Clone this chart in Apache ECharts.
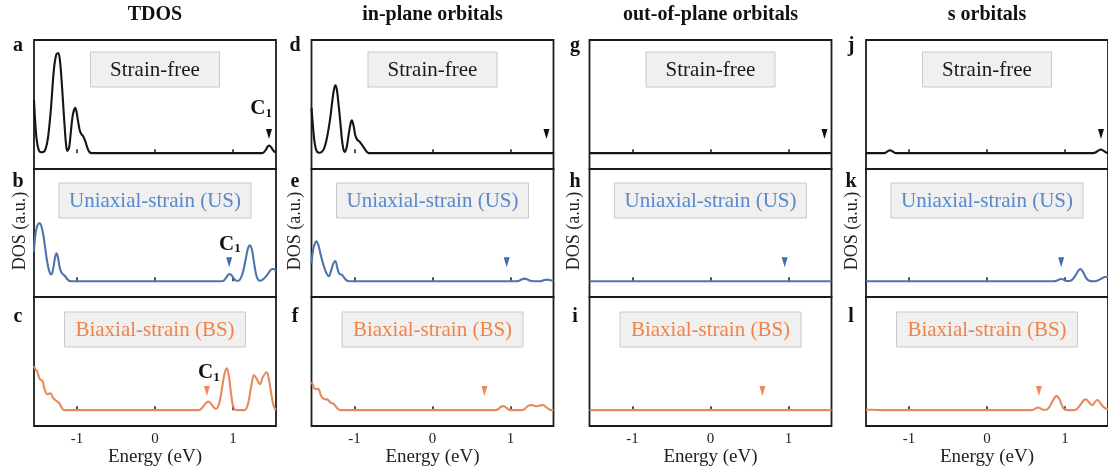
<!DOCTYPE html>
<html>
<head>
<meta charset="utf-8">
<script src="https://cdn.jsdelivr.net/npm/echarts@6/dist/echarts.min.js"></script>
<style>html,body{margin:0;padding:0;background:#fff;}#chart{width:1108px;height:472px;}</style>
</head>
<body>
<div id="chart"></div>
<script>
// ---------- data ----------
const energyRange = [-1.55, 1.55];
const tickValues = [-1, 0, 1];
const columnTitles = ['TDOS', 'in-plane orbitals', 'out-of-plane orbitals', 's orbitals'];
const rowLabels = ['Strain-free', 'Uniaxial-strain (US)', 'Biaxial-strain (BS)'];
const panelLetters = [['a','b','c'], ['d','e','f'], ['g','h','i'], ['j','k','l']];

// [energy (eV), DOS (a.u.)]
const tdosSF = [[-1.55,0.47],[-1.535,0.28],[-1.516,0.12],[-1.49,0.03],[-1.46,0.008],[-1.43,0.01],[-1.40,0.04],[-1.37,0.14],[-1.337,0.36],[-1.295,0.74],[-1.265,0.87],[-1.239,0.885],[-1.215,0.80],[-1.197,0.65],[-1.178,0.45],[-1.158,0.24],[-1.14,0.08],[-1.124,0.02],[-1.10,0.05],[-1.082,0.16],[-1.052,0.34],[-1.021,0.40],[-0.992,0.31],[-0.967,0.21],[-0.945,0.17],[-0.92,0.15],[-0.89,0.10],[-0.865,0.045],[-0.84,0.01],[-0.81,0],[1.36,0],[1.39,0.005],[1.42,0.03],[1.445,0.06],[1.464,0.068],[1.485,0.055],[1.51,0.03],[1.53,0.012],[1.55,0.005]];
const tdosUS = [[-1.55,0.265],[-1.535,0.40],[-1.515,0.48],[-1.495,0.512],[-1.474,0.516],[-1.455,0.49],[-1.43,0.41],[-1.405,0.29],[-1.38,0.17],[-1.355,0.09],[-1.328,0.06],[-1.30,0.13],[-1.278,0.22],[-1.26,0.25],[-1.24,0.20],[-1.22,0.12],[-1.20,0.08],[-1.175,0.06],[-1.15,0.045],[-1.125,0.02],[-1.10,0.005],[-1.07,0],[0.85,0],[0.88,0.005],[0.91,0.03],[0.935,0.055],[0.96,0.065],[0.985,0.05],[1.01,0.025],[1.04,0.005],[1.07,0.005],[1.10,0.03],[1.13,0.09],[1.16,0.19],[1.19,0.29],[1.218,0.32],[1.245,0.27],[1.27,0.16],[1.295,0.06],[1.32,0.015],[1.35,0.005],[1.39,0.02],[1.43,0.05],[1.47,0.09],[1.50,0.11],[1.52,0.11],[1.55,0.09]];
const tdosBS = [[-1.55,0.39],[-1.53,0.36],[-1.507,0.34],[-1.49,0.30],[-1.47,0.27],[-1.443,0.26],[-1.42,0.20],[-1.40,0.16],[-1.38,0.14],[-1.36,0.145],[-1.337,0.15],[-1.315,0.12],[-1.295,0.10],[-1.26,0.08],[-1.231,0.065],[-1.21,0.04],[-1.188,0.015],[-1.165,0],[0.55,0],[0.58,0.005],[0.61,0.025],[0.65,0.06],[0.685,0.075],[0.72,0.055],[0.75,0.025],[0.78,0.012],[0.80,0.02],[0.83,0.08],[0.86,0.2],[0.89,0.32],[0.92,0.37],[0.945,0.31],[0.97,0.17],[0.995,0.05],[1.02,0.01],[1.05,0],[1.15,0],[1.175,0.02],[1.20,0.08],[1.235,0.22],[1.268,0.31],[1.30,0.28],[1.345,0.23],[1.38,0.29],[1.43,0.335],[1.46,0.27],[1.49,0.14],[1.515,0.05],[1.535,0.015],[1.55,0.005]];

const inSF = [[-1.55,0.40],[-1.535,0.27],[-1.515,0.12],[-1.495,0.04],[-1.475,0.01],[-1.45,0.004],[-1.42,0.01],[-1.39,0.04],[-1.36,0.11],[-1.33,0.22],[-1.308,0.32],[-1.28,0.48],[-1.26,0.57],[-1.244,0.60],[-1.225,0.56],[-1.205,0.44],[-1.18,0.27],[-1.16,0.12],[-1.14,0.03],[-1.125,0.01],[-1.10,0.05],[-1.075,0.16],[-1.05,0.26],[-1.033,0.29],[-1.01,0.24],[-0.99,0.16],[-0.965,0.12],[-0.94,0.105],[-0.915,0.085],[-0.89,0.06],[-0.865,0.035],[-0.84,0.01],[-0.815,0],[1.55,0]];
const inUS = [[-1.55,0.16],[-1.53,0.28],[-1.505,0.34],[-1.485,0.355],[-1.465,0.33],[-1.44,0.26],[-1.415,0.19],[-1.39,0.13],[-1.36,0.075],[-1.33,0.045],[-1.30,0.09],[-1.27,0.16],[-1.244,0.18],[-1.22,0.12],[-1.20,0.075],[-1.18,0.062],[-1.16,0.058],[-1.13,0.03],[-1.096,0.005],[-1.07,0],[1.08,0],[1.11,0.005],[1.14,0.015],[1.18,0.024],[1.22,0.015],[1.25,0.004],[1.30,0],[1.38,0],[1.42,0.008],[1.47,0.015],[1.51,0.01],[1.55,0.003]];
const inBS = [[-1.55,0.25],[-1.53,0.22],[-1.51,0.19],[-1.49,0.185],[-1.47,0.19],[-1.45,0.175],[-1.43,0.13],[-1.41,0.11],[-1.39,0.10],[-1.37,0.095],[-1.35,0.095],[-1.325,0.08],[-1.30,0.065],[-1.266,0.055],[-1.235,0.03],[-1.205,0.008],[-1.18,0],[0.80,0],[0.84,0.008],[0.875,0.03],[0.907,0.036],[0.94,0.025],[0.975,0.006],[1.00,0],[1.14,0],[1.18,0.01],[1.22,0.035],[1.266,0.045],[1.31,0.038],[1.34,0.035],[1.375,0.042],[1.414,0.046],[1.45,0.03],[1.49,0.01],[1.52,0],[1.55,0]];

const outSF = [[-1.55,0],[1.55,0]];
const outUS = [[-1.55,0],[1.55,0]];
const outBS = [[-1.55,0],[1.55,0]];

const sSF = [[-1.55,0],[-1.32,0],[-1.29,0.008],[-1.26,0.022],[-1.243,0.025],[-1.22,0.02],[-1.19,0.006],[-1.16,0],[1.36,0],[1.40,0.01],[1.43,0.025],[1.458,0.032],[1.49,0.022],[1.52,0.008],[1.55,0.002]];
const sUS = [[-1.55,0],[-1.20,0],[0.86,0],[0.90,0.008],[0.95,0.02],[0.99,0.012],[1.03,0.002],[1.07,0.004],[1.10,0.02],[1.14,0.06],[1.175,0.10],[1.196,0.11],[1.22,0.095],[1.25,0.055],[1.28,0.02],[1.31,0.004],[1.36,0],[1.42,0.008],[1.47,0.025],[1.51,0.038],[1.55,0.04]];
const sBS = [[-1.55,0.003],[-1.45,0.003],[-1.40,0.001],[-1.35,0],[0.55,0],[0.60,0.005],[0.63,0.018],[0.653,0.024],[0.68,0.018],[0.72,0.004],[0.76,0.004],[0.80,0.03],[0.84,0.08],[0.875,0.118],[0.898,0.124],[0.925,0.10],[0.955,0.05],[0.98,0.015],[1.01,0.002],[1.10,0],[1.15,0.01],[1.20,0.05],[1.235,0.085],[1.267,0.095],[1.30,0.075],[1.33,0.05],[1.352,0.045],[1.38,0.07],[1.416,0.09],[1.45,0.065],[1.49,0.03],[1.52,0.015],[1.55,0.012]];

// C1 feature energy per row (strain-free, US, BS), marker height, and C1 label anchors (TDOS column)
const c1Energy = [1.46, 0.95, 0.665];
const markerLevel = 0.17;
const c1LabelPos = [[1.36, 0.39], [0.96, 0.33], [0.69, 0.33]];

// ---------- layout / style ----------
const panels = [[tdosSF, tdosUS, tdosBS], [inSF, inUS, inBS], [outSF, outUS, outBS], [sSF, sUS, sBS]];
const colLeft = [34, 311.5, 589.5, 866];
const colWidth = 242;
const rowTop = [40, 169, 297];
const rowHeight = [129, 128, 129];
const lineColors = ['#151515', '#4f73ab', '#e8895b'];
const markColors = ['#111111', '#3f6db4', '#f08a5a'];
const labelColors = ['#1a1a1a', '#5a88c9', '#ef8449'];
const boxWidths = [129, 192, 181];
const boxOffset = [12, 14, 15];
const letterX = [18, 295, 575, 851];
const letterY = [46, 182, 317];
const dosLabelX = [20, 295, 574, 852];
const SERIF = '"Liberation Serif", "Times New Roman", serif';

const grids = [], xAxes = [], yAxes = [], series = [], graphics = [];
let gi = 0;
for (let c = 0; c < 4; c++) {
  for (let r = 0; r < 3; r++) {
    const bottomRow = r === 2;
    grids.push({left: colLeft[c], top: rowTop[r], width: colWidth, height: rowHeight[r],
      show: true, borderColor: '#1c1c1c', borderWidth: 1.8, backgroundColor: 'transparent', containLabel: false});
    xAxes.push({type: 'value', gridIndex: gi, min: energyRange[0], max: energyRange[1],
      axisLine: {show: false},
      axisTick: {show: true, inside: true, length: 4, customValues: tickValues, lineStyle: {color: '#1c1c1c', width: 1.5}},
      axisLabel: {show: bottomRow, customValues: tickValues, margin: 6, fontFamily: SERIF, fontSize: 15, color: '#222',
        formatter: v => String(v)},
      splitLine: {show: false},
      name: bottomRow ? 'Energy (eV)' : '', nameLocation: 'middle', nameGap: 19,
      nameTextStyle: {fontFamily: SERIF, fontSize: 19, color: '#222'}
    });
    yAxes.push({type: 'value', gridIndex: gi, min: -0.14, max: 1.0, show: false});
    series.push({type: 'line', xAxisIndex: gi, yAxisIndex: gi, data: panels[c][r], smooth: 0.35,
      showSymbol: false, symbol: 'none', lineStyle: {color: lineColors[r], width: 2.1}, silent: true, animation: false});
    series.push({type: 'scatter', xAxisIndex: gi, yAxisIndex: gi, data: [[c1Energy[r], markerLevel]],
      symbol: 'triangle', symbolRotate: 180, symbolSize: [6, 10], itemStyle: {color: markColors[r], opacity: 1}, silent: true, animation: false});
    if (c === 0) {
      series.push({type: 'scatter', xAxisIndex: gi, yAxisIndex: gi, data: [c1LabelPos[r]], symbolSize: 0,
        itemStyle: {opacity: 1},
        label: {show: true, position: 'inside', formatter: '{c|C}{s|1}', color: '#111', textBorderWidth: 0,
          rich: {c: {fontFamily: SERIF, fontWeight: 'bold', fontSize: 21, color: '#111', lineHeight: 22, textBorderWidth: 0},
                 s: {fontFamily: SERIF, fontWeight: 'bold', fontSize: 13, color: '#111', lineHeight: 12, verticalAlign: 'bottom', textBorderWidth: 0}}},
        silent: true, animation: false});
    }
    // label box
    const bw = boxWidths[r], bh = 35;
    const bx = colLeft[c] + colWidth / 2 - bw / 2, by = rowTop[r] + boxOffset[r];
    graphics.push({type: 'rect', shape: {x: bx, y: by, width: bw, height: bh},
      style: {fill: '#f0f0f0', stroke: '#c9c9c9', lineWidth: 1}, z: 10});
    graphics.push({type: 'text', x: bx + bw / 2, y: by + bh / 2 + 1, z: 11,
      style: {text: rowLabels[r], font: '21px ' + SERIF, fill: labelColors[r], textAlign: 'center', textVerticalAlign: 'middle', align: 'center', verticalAlign: 'middle'}});
    // panel letter
    graphics.push({type: 'text', x: letterX[c], y: letterY[r], z: 11,
      style: {text: panelLetters[c][r], font: 'bold 20px ' + SERIF, fill: '#111', textAlign: 'center', textVerticalAlign: 'middle', align: 'center', verticalAlign: 'middle'}});
    gi++;
  }
  // column title
  graphics.push({type: 'text', x: colLeft[c] + colWidth / 2, y: 15, z: 11,
    style: {text: columnTitles[c], font: 'bold 20px ' + SERIF, fill: '#111', textAlign: 'center', textVerticalAlign: 'middle', align: 'center', verticalAlign: 'middle'}});
  // DOS label
  graphics.push({type: 'text', x: dosLabelX[c], y: 231, rotation: Math.PI / 2, z: 11,
    style: {text: 'DOS (a.u.)', font: '18px ' + SERIF, fill: '#222', textAlign: 'center', textVerticalAlign: 'middle', align: 'center', verticalAlign: 'middle'}});
}

const chart = echarts.init(document.getElementById('chart'), null, {renderer: 'canvas'});
chart.setOption({animation: false, grid: grids, xAxis: xAxes, yAxis: yAxes, series: series, graphic: graphics});
</script>
</body>
</html>
